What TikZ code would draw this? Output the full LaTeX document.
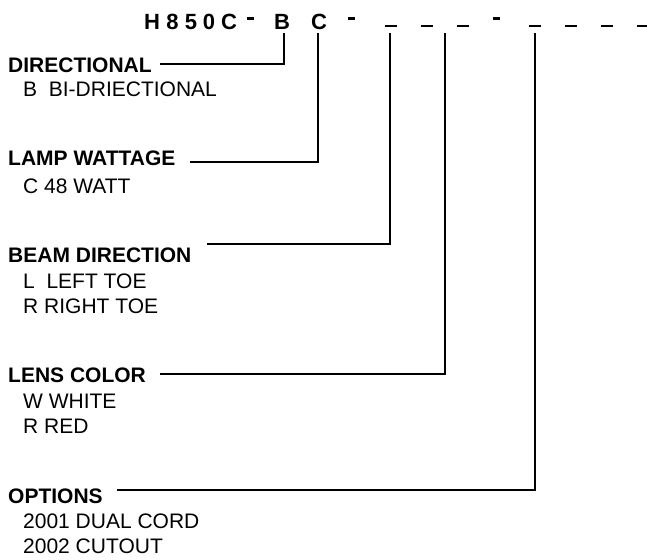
\documentclass[tikz,border=0pt]{standalone}
\usepackage{fontspec}
\setmainfont{Liberation Sans}
\begin{document}
\begin{tikzpicture}[x=1pt,y=-1pt,
  head/.style={anchor=base west,inner sep=0pt,font=\fontsize{21}{25}\selectfont\bfseries},
  item/.style={anchor=base west,inner sep=0pt,font=\fontsize{21}{25}\selectfont},
  code/.style={anchor=base,inner sep=0pt,font=\fontsize{22}{26}\selectfont\bfseries},
  lead/.style={line width=1.8pt},
  uline/.style={line width=2pt},
  dashmark/.style={line width=3pt}]
\useasboundingbox (0,0) rectangle (647,559);
% header code
\node[code] (cH) at (152,30) {H};
\node[code] (c8) at (172.5,30) {8};
\node[code] (c5) at (191,30) {5};
\node[code] (c0) at (209,30) {0};
\node[code] (cC) at (229,30) {C};
\node[code] (cB) at (282,30) {B};
\node[code] (cC2) at (319,30) {C};
\foreach \x in {250,351,496} \draw[dashmark] (\x-3.5,18.5) -- (\x+3.5,18.5);
\foreach \x in {391,426.5,463,535,571,607,643} \draw[uline] (\x-6,26) -- (\x+6,26);
% top ends of leaders
\coordinate (tB) at (284,33);
\coordinate (tC) at (318,33);
\coordinate (tL) at (390,33);
\coordinate (tW) at (445,33);
\coordinate (tO) at (535,33);
% labels
\node[head] (dir) at (8,73) {DIRECTIONAL};
\node[item] (dir1) at (23,97) {B\ \ BI-DRIECTIONAL};
\node[head] (lamp) at (8,165) {LAMP WATTAGE};
\node[item] (lamp1) at (23,193) {C 48 WATT};
\node[head] (beam) at (8,262) {BEAM DIRECTION};
\node[item] (beam1) at (23,288) {L\ \ LEFT TOE};
\node[item] (beam2) at (23,313) {R RIGHT TOE};
\node[head] (lens) at (8,382) {LENS COLOR};
\node[item] (lens1) at (23,408) {W WHITE};
\node[item] (lens2) at (23,433) {R RED};
\node[head] (opt) at (8,503) {OPTIONS};
\node[item] (opt1) at (23,528) {2001 DUAL CORD};
\node[item] (opt2) at (23,553) {2002 CUTOUT};
% leader start points
\coordinate (sD) at (160,64);
\coordinate (sLa) at (190,162);
\coordinate (sBe) at (207,244);
\coordinate (sLe) at (160,374);
\coordinate (sO) at (117,490);
\draw[lead] (sD) -| (tB);
\draw[lead] (sLa) -| (tC);
\draw[lead] (sBe) -| (tL);
\draw[lead] (sLe) -| (tW);
\draw[lead] (sO) -| (tO);
\end{tikzpicture}
\end{document}
